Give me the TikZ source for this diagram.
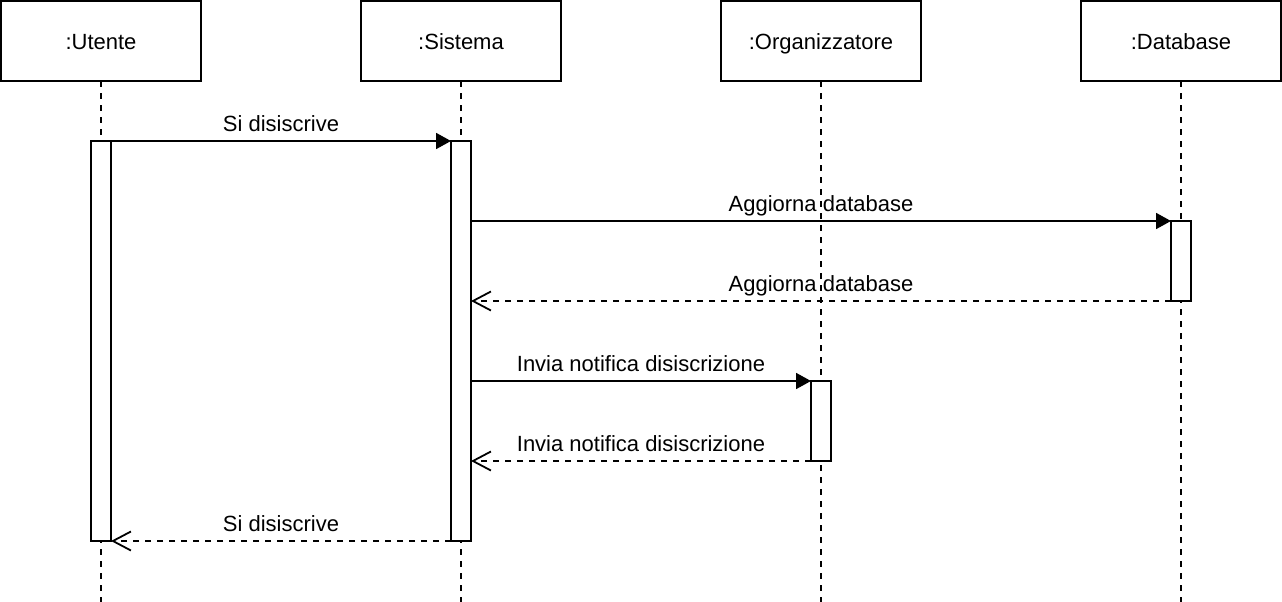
\documentclass[tikz,border=0pt]{standalone}
\usepackage{fontspec}
\setmainfont{Liberation Sans}
\usetikzlibrary{arrows.meta}

\begin{document}
\begin{tikzpicture}[x=1pt,y=-1pt,line width=1.8pt,font=\fontsize{22}{26}\selectfont]
%style for participant box
\tikzstyle{part} = [rectangle, draw=black, fill=white, minimum width=200pt, minimum height=80pt, inner sep=0pt, outer sep=0pt, text height=16pt, text depth=0pt]

%style for activation bar
\tikzstyle{act} = [rectangle, draw=black, fill=white, minimum width=20pt, inner sep=0pt, outer sep=0pt]

%style for lifeline
\tikzstyle{life} = [dash pattern=on 6pt off 6pt]

%style for call and return messages
\tikzstyle{call} = [-{Triangle[length=15pt,width=16pt]}]
\tikzstyle{ret} = [-{Straight Barb[length=18pt,width=19pt]}, dash pattern=on 6pt off 6pt]

%style for message label
\tikzstyle{msg} = [midway, above, inner sep=9pt, text depth=0pt]

\useasboundingbox (0,0) rectangle (1282,602);

%place participants
\node[part] (utente) at (101,41) {:Utente};
\node[part] (sistema) at (461,41) {:Sistema};
\node[part] (organizzatore) at (821,41) {:Organizzatore};
\node[part] (database) at (1181,41) {:Database};

%lifeline ends
\coordinate (uEnd) at (101,602);
\coordinate (sEnd) at (461,602);
\coordinate (oEnd) at (821,602);
\coordinate (dEnd) at (1181,602);

\draw[life] (utente) -- (uEnd);
\draw[life] (sistema) -- (sEnd);
\draw[life] (organizzatore) -- (oEnd);
\draw[life] (database) -- (dEnd);

%activation bars
\node[act, minimum height=400pt] (uAct) at (101,341) {};
\node[act, minimum height=400pt] (sAct) at (461,341) {};
\node[act, minimum height=80pt] (dAct) at (1181,261) {};
\node[act, minimum height=80pt] (oAct) at (821,421) {};

%messages
\draw[call] (uAct.north east) -- node[msg] {Si disiscrive} (sAct.north west);

\draw[call] (sAct.east |- dAct.north west) -- node[msg] {Aggiorna database} (dAct.north west);
\draw[ret] (dAct.south west) -- node[msg] {Aggiorna database} (sAct.east |- dAct.south west);

\draw[call] (sAct.east |- oAct.north west) -- node[msg] {Invia notifica disiscrizione} (oAct.north west);
\draw[ret] (oAct.south west) -- node[msg] {Invia notifica disiscrizione} (sAct.east |- oAct.south west);

\draw[ret] (sAct.south west) -- node[msg] {Si disiscrive} (uAct.south east);
\end{tikzpicture}
\end{document}
